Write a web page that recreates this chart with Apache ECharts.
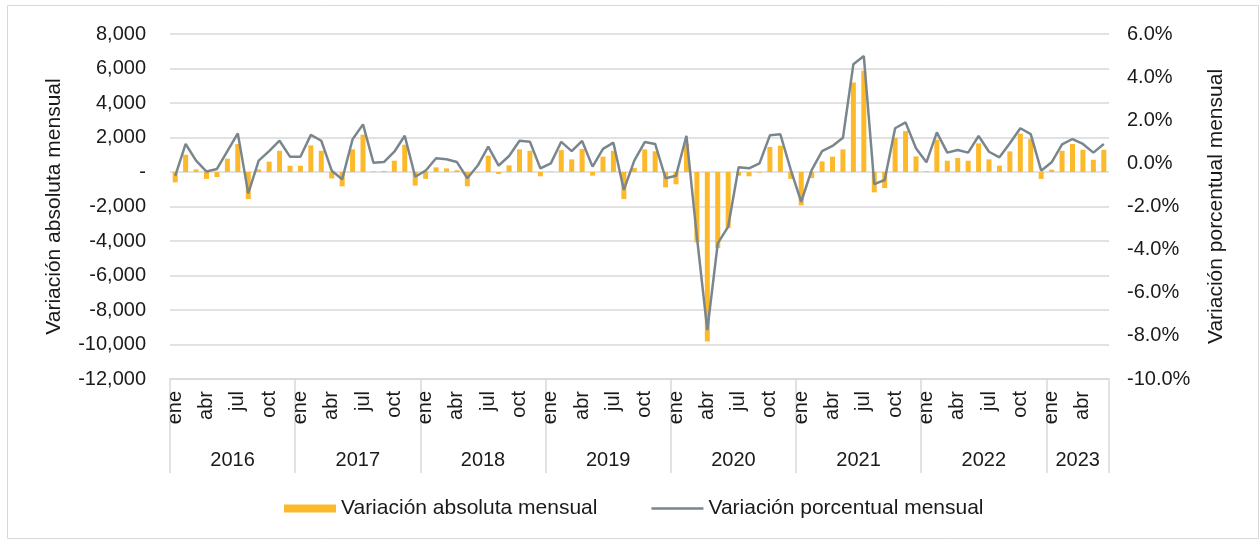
<!DOCTYPE html>
<html>
<head>
<meta charset="utf-8">
<script src="https://cdn.jsdelivr.net/npm/echarts@6/dist/echarts.min.js"></script>
<style>
  html, body { margin: 0; padding: 0; background: #fff; }
  #chart { width: 1260px; height: 540px; }
</style>
</head>
<body>
<div id="chart"></div>
<script>
const monthNames = ['ene','feb','mar','abr','may','jun','jul','ago','sep','oct','nov','dic'];
const years = ['2016','2017','2018','2019','2020','2021','2022','2023'];
const monthsPerYear = [12,12,12,12,12,12,12,6];

const absoluteChange = [
  -600, 1000, 150, -400, -290, 770, 1620, -1570, 150, 600, 1230, 365,
  365, 1540, 1230, -370, -830, 1310, 2160, 30, 60, 655, 1580, -790,
  -400, 270, 210, 100, -830, -20, 945, -115, 385, 1310, 1230, -250,
  20, 1270, 730, 1330, -210, 890, 1230, -1570, 230, 1310, 1200, -890,
  -710, 1640, -4080, -9820, -4400, -3250, -215, -250, -40, 1450, 1525, -400,
  -1935, -350, 615, 890, 1310, 5190, 5870, -1180, -930, 1970, 2370, 905,
  40, 1870, 655, 810, 655, 1660, 730, 365, 1195, 2220, 1910, -400,
  135, 1230, 1620, 1290, 710, 1290
];

const percentChange = [
  -0.58, 0.90, 0.13, -0.38, -0.26, 0.57, 1.39, -1.39, 0.13, 0.57, 1.05, 0.31,
  0.31, 1.32, 1.05, -0.34, -0.74, 1.12, 1.81, 0.03, 0.06, 0.54, 1.28, -0.62,
  -0.34, 0.24, 0.19, 0.06, -0.69, -0.10, 0.78, -0.10, 0.34, 1.05, 1.00, -0.23,
  0.00, 1.00, 0.57, 1.04, -0.15, 0.67, 0.96, -1.23, 0.13, 0.99, 0.90, -0.69,
  -0.57, 1.28, -3.40, -7.73, -3.71, -2.93, -0.18, -0.23, 0.00, 1.30, 1.35, -0.30,
  -1.78, -0.31, 0.57, 0.81, 1.19, 4.60, 4.98, -0.96, -0.77, 1.63, 1.90, 0.70,
  0.05, 1.44, 0.50, 0.62, 0.50, 1.27, 0.54, 0.28, 0.93, 1.63, 1.36, -0.34,
  0.05, 0.88, 1.13, 0.90, 0.50, 0.90
];

const seriesNames = ['Variación absoluta mensual', 'Variación porcentual mensual'];

// Build category list (month labels) and year centers
const categories = [];
const yearCenters = {};
let start = 0;
years.forEach((y, k) => {
  for (let m = 0; m < monthsPerYear[k]; m++) categories.push(monthNames[m]);
  yearCenters[start + monthsPerYear[k] / 2] = y;
  start += monthsPerYear[k];
});
const totalMonths = categories.length;

const FONT = '"Liberation Sans", Arial, sans-serif';
const TXT = '#1a1a1a';
const GRIDC = '#d9d9d9';
const BAR_COLOR = '#FCB92A';
const LINE_COLOR = '#7A868D';
const AX_FS = 20;
const NAME_FS = 21;

const chart = echarts.init(document.getElementById('chart'));
chart.setOption({
  animation: false,
  backgroundColor: '#fff',
  textStyle: { fontFamily: FONT },
  graphic: [{
    type: 'rect',
    shape: { x: 7.5, y: 5.5, width: 1251, height: 533 },
    style: { fill: 'none', stroke: GRIDC, lineWidth: 1 },
    silent: true
  }],
  grid: { left: 170, right: 151, top: 34, bottom: 161, containLabel: false },
  legend: {
    left: 279, top: 493,
    itemWidth: 52, itemHeight: 8, itemGap: 54,
    textStyle: { fontFamily: FONT, fontSize: NAME_FS, color: TXT },
    data: [
      { name: seriesNames[0], icon: 'rect' },
      { name: seriesNames[1], icon: 'path://M0,0 H208 V10 H0 Z' }
    ]
  },
  xAxis: [{
    type: 'category',
    data: categories,
    boundaryGap: true,
    axisLine: { show: true, onZero: false, lineStyle: { color: GRIDC, width: 1.5 } },
    axisTick: {
      show: true,
      interval: (i) => i % 12 === 0,
      length: 94,
      lineStyle: { color: GRIDC, width: 1.5 }
    },
    axisLabel: {
      interval: 2, rotate: 90, margin: 12,
      fontFamily: FONT, fontSize: AX_FS, color: TXT
    }
  }, {
    type: 'value',
    min: 0, max: totalMonths, interval: 1,
    position: 'bottom', offset: 64,
    axisLine: { show: false, onZero: false }, axisTick: { show: false }, splitLine: { show: false },
    axisLabel: {
      margin: 7, fontFamily: FONT, fontSize: AX_FS, color: TXT,
      formatter: (v) => yearCenters[v] || ''
    }
  }],
  yAxis: [{
    type: 'value',
    min: -12000, max: 8000, interval: 2000,
    name: seriesNames[0], nameLocation: 'middle', nameRotate: 90, nameGap: 105,
    nameTextStyle: { fontFamily: FONT, fontSize: NAME_FS, color: TXT },
    axisLine: { show: false }, axisTick: { show: false },
    splitLine: { show: true, lineStyle: { color: GRIDC, width: 1.5 } },
    axisLabel: {
      margin: 24, fontFamily: FONT, fontSize: AX_FS, color: TXT,
      formatter: (v) => v === 0 ? '-' : v.toLocaleString('en-US')
    }
  }, {
    type: 'value',
    min: -10, max: 6, interval: 2,
    position: 'right',
    name: seriesNames[1], nameLocation: 'middle', nameRotate: 90, nameGap: 97,
    nameTextStyle: { fontFamily: FONT, fontSize: NAME_FS, color: TXT },
    axisLine: { show: false }, axisTick: { show: false }, splitLine: { show: false },
    axisLabel: {
      margin: 18, fontFamily: FONT, fontSize: AX_FS, color: TXT,
      formatter: (v) => v.toFixed(1) + '%'
    }
  }],
  series: [{
    name: seriesNames[0],
    type: 'bar',
    xAxisIndex: 0, yAxisIndex: 0,
    data: absoluteChange,
    barWidth: 5,
    itemStyle: { color: BAR_COLOR }
  }, {
    name: seriesNames[1],
    type: 'line',
    xAxisIndex: 0, yAxisIndex: 1,
    data: percentChange,
    symbol: 'none',
    lineStyle: { color: LINE_COLOR, width: 2.5 },
    itemStyle: { color: LINE_COLOR }
  }]
});
</script>
</body>
</html>
